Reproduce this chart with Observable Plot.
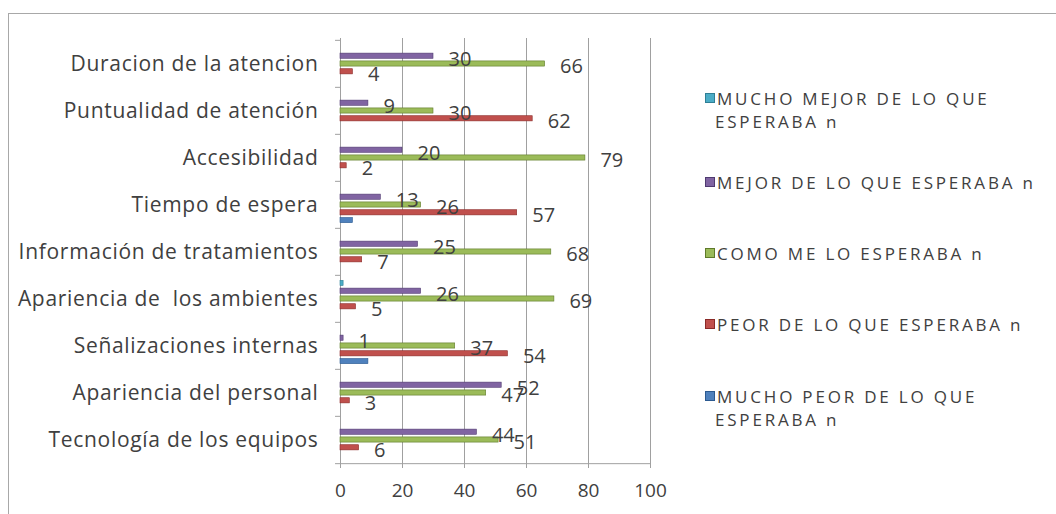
<!DOCTYPE html>
<html><head><meta charset="utf-8">
<script src="https://cdn.jsdelivr.net/npm/d3@7"></script>
<script src="https://cdn.jsdelivr.net/npm/@observablehq/plot@0.6"></script>
<style>
html,body{margin:0;padding:0;background:#fff;}
body{width:1056px;height:514px;overflow:hidden;position:relative;font-family:"Open Sans",sans-serif;color:#404040;}
#frame{position:absolute;left:8px;top:13px;width:1100px;height:560px;border:1.5px solid #a8a8a8;box-sizing:border-box;}
#chart{position:absolute;left:0;top:0;}
#chart [aria-label="y-axis tick label"]{letter-spacing:0.7px;}
.item{position:absolute;left:705px;font-size:17px;line-height:23px;letter-spacing:2.8px;color:#404040;white-space:nowrap;}
.sw{display:inline-block;width:8px;height:8px;margin-right:2px;vertical-align:2px;}
</style></head><body>
<div id="frame"></div>
<div id="chart"></div>
<div id="legend"></div>
<script>
const categories = [
  "Duracion de la atencion",
  "Puntualidad de atención",
  "Accesibilidad",
  "Tiempo de espera",
  "Información de tratamientos",
  "Apariencia de  los ambientes",
  "Señalizaciones internas",
  "Apariencia del personal",
  "Tecnología de los equipos"
];
const seriesNames = [
  "MUCHO MEJOR DE LO QUE ESPERABA n",
  "MEJOR DE LO QUE ESPERABA n",
  "COMO ME LO ESPERABA n",
  "PEOR DE LO QUE ESPERABA n",
  "MUCHO PEOR DE LO QUE ESPERABA n"
];
const legendLines = [
  ["MUCHO MEJOR DE LO QUE", "ESPERABA n"],
  ["MEJOR DE LO QUE ESPERABA n"],
  ["COMO ME LO ESPERABA n"],
  ["PEOR DE LO QUE ESPERABA n"],
  ["MUCHO PEOR DE LO QUE", "ESPERABA n"]
];
const muchoMejor = [0, 0, 0, 0, 0, 1, 0, 0, 0];
const mejor      = [30, 9, 20, 13, 25, 26, 1, 52, 44];
const como       = [66, 30, 79, 26, 68, 69, 37, 47, 51];
const peor       = [4, 62, 2, 57, 7, 5, 54, 3, 6];
const muchoPeor  = [0, 0, 0, 4, 0, 0, 9, 0, 0];
const labeledSeries = [1, 2, 3];
const xTicks = [0, 20, 40, 60, 80, 100];
const colors = ["#4BACC6", "#8064A2", "#9BBB59", "#C0504D", "#4F81BD"];
const strokes = ["#2f7f95", "#4f3a70", "#5f7a2a", "#8a2a28", "#2c5a90"];

const seriesValues = [muchoMejor, mejor, como, peor, muchoPeor];
const rows = [];
seriesValues.forEach((vals, s) => vals.forEach((v, c) => rows.push({category: categories[c], series: seriesNames[s], s, value: v})));

const H = 514, W = 680, mT = 38, mB = 50;
const band = (H - mT - mB) / categories.length;
const slot = 7.8, thick = 5.5;
const inset = (band - thick) / 2;

const marks = [];
marks.push(Plot.ruleX(xTicks, {stroke: "#a0a0a0", strokeWidth: 1}));
marks.push(Plot.ruleY([categories[categories.length - 1]], {dy: band / 2, stroke: "#a0a0a0"}));
marks.push(Plot.ruleY(categories, {x1: -1.6, x2: 0, dy: -band / 2, stroke: "#a0a0a0"}));
marks.push(Plot.ruleY([categories[categories.length - 1]], {x1: -1.6, x2: 0, dy: band / 2, stroke: "#a0a0a0"}));
seriesNames.forEach((name, i) => {
  marks.push(Plot.barX(rows.filter(d => d.s === i), {
    y: "category", x: "value", fill: colors[i], stroke: strokes[i], strokeWidth: 0.6,
    dy: (i - 2) * slot, insetTop: inset, insetBottom: inset
  }));
});
labeledSeries.forEach(i => {
  marks.push(Plot.text(rows.filter(d => d.s === i), {
    y: "category", x: "value", text: d => String(d.value),
    dx: 15, dy: (i - 2) * slot + 3, textAnchor: "start", fill: "#404040", fontSize: 20
  }));
});
marks.push(Plot.axisX({ticks: xTicks, tickSize: 4, tickPadding: 15, fontSize: 19, stroke: "#a0a0a0", fill: "#404040", label: null}));
marks.push(Plot.axisY({tickSize: 0, tickPadding: 22, fontSize: 21, fill: "#404040", label: null}));

const chart = Plot.plot({
  width: W, height: H,
  marginTop: mT, marginBottom: mB, marginLeft: 340, marginRight: 30,
  style: {fontFamily: "'Open Sans', sans-serif", background: "transparent", color: "#404040"},
  x: {domain: [0, 100]},
  y: {domain: categories, padding: 0},
  marks
});
document.getElementById("chart").appendChild(chart);

const legendTops = [87, 171, 242, 313, 385];
const lg = document.getElementById("legend");
legendLines.forEach((lines, i) => {
  const div = document.createElement("div");
  div.className = "item";
  div.style.top = legendTops[i] + "px";
  div.innerHTML = `<span class="sw" style="background:${colors[i]};border:0.5px solid ${strokes[i]}"></span>` +
    lines.map((l, k) => k === 0 ? `<span>${l}</span>` : `<br><span style="margin-left:10px">${l}</span>`).join("");
  lg.appendChild(div);
});
</script>
</body></html>
